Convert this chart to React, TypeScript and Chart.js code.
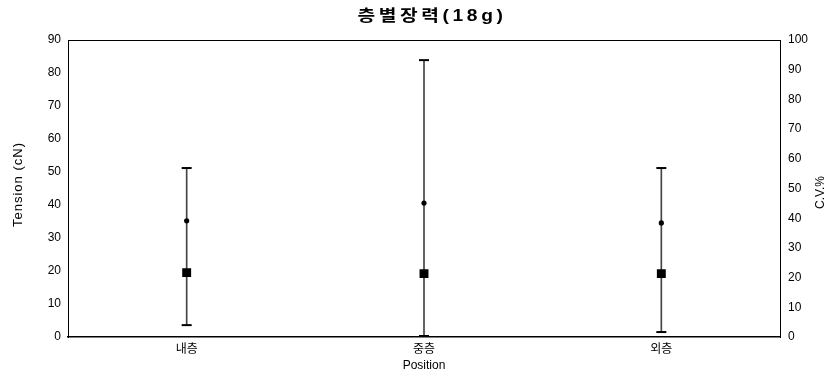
import { useEffect, useRef } from 'react';
import { Chart, registerables } from 'chart.js';

Chart.register(...registerables);

// Layers of the package
const positions = ['내층', '중층', '외층'];

// Tension (cN): mean, with minimum / maximum as whiskers
const tensionMean = [19.5, 19.2, 19.2];
const tensionMin = [3.6, 0.3, 1.5];
const tensionMax = [51.2, 83.9, 51.2];

// Coefficient of variation (%), right axis
const cvPercent = [39.1, 45.1, 38.4];

// Axis ranges
const tensionRange = { min: 0, max: 90, step: 10 };
const cvRange = { min: 0, max: 100, step: 10 };

const titleText = '층별장력(18g)';
const leftTitle = 'Tension (cN)';
const rightTitle = 'C.V.%';
const FONT = "'Liberation Sans', Arial, 'Noto Sans CJK KR', sans-serif";

const frameAndLabels = {
  id: 'frameAndLabels',
  afterDraw(chart: Chart) {
    const { ctx, chartArea } = chart;
    const { left, right, top, bottom } = chartArea;
    const midY = (top + bottom) / 2;
    ctx.save();
    // frame line along the top of the plot
    ctx.strokeStyle = '#000';
    ctx.lineWidth = 1;
    ctx.beginPath();
    ctx.moveTo(left, top + 0.5);
    ctx.lineTo(right, top + 0.5);
    ctx.stroke();

    ctx.fillStyle = '#000';
    ctx.textAlign = 'center';
    ctx.textBaseline = 'middle';

    // chart title: bold, widened and letter-spaced
    ctx.save();
    ctx.font = `bold 16px ${FONT}`;
    (ctx as any).letterSpacing = '3px';
    ctx.translate((left + right) / 2 + 8, 17);
    ctx.scale(1.2, 1);
    ctx.fillText(titleText, 0, 0);
    ctx.restore();

    // left axis title, reading bottom to top
    ctx.save();
    ctx.font = `13px ${FONT}`;
    (ctx as any).letterSpacing = '1px';
    ctx.translate(18, midY - 4);
    ctx.rotate(-Math.PI / 2);
    ctx.fillText(leftTitle, 0, 0);
    ctx.restore();

    // right axis title, reading bottom to top
    ctx.save();
    ctx.font = `12px ${FONT}`;
    ctx.translate(right + 41, midY + 4);
    ctx.rotate(-Math.PI / 2);
    ctx.fillText(rightTitle, 0, 0);
    ctx.restore();

    ctx.restore();
  },
};

export default function App() {
  const canvasRef = useRef<HTMLCanvasElement | null>(null);

  useEffect(() => {
    document.body.style.margin = '0';
    const canvas = canvasRef.current;
    if (!canvas) return;

    const chart = new Chart(canvas, {
      type: 'bar',
      data: {
        labels: positions,
        datasets: [
          {
            type: 'line',
            label: 'Mean',
            data: tensionMean,
            yAxisID: 'y',
            showLine: false,
            pointStyle: 'rect',
            pointRadius: 6.3,
            pointBackgroundColor: '#000',
            pointBorderColor: '#000',
            pointBorderWidth: 0,
            order: 0,
          },
          {
            type: 'line',
            label: 'C.V.%',
            data: cvPercent,
            yAxisID: 'y1',
            showLine: false,
            pointStyle: 'circle',
            pointRadius: 2.6,
            pointBackgroundColor: '#000',
            pointBorderColor: '#000',
            pointBorderWidth: 0,
            order: 0,
          },
          {
            type: 'line',
            label: 'Max',
            data: tensionMax,
            yAxisID: 'y',
            showLine: false,
            pointStyle: 'line',
            pointRadius: 5,
            pointBorderColor: '#000',
            pointBorderWidth: 2,
            order: 1,
          },
          {
            type: 'line',
            label: 'Min',
            data: tensionMin,
            yAxisID: 'y',
            showLine: false,
            pointStyle: 'line',
            pointRadius: 5,
            pointBorderColor: '#000',
            pointBorderWidth: 2,
            order: 1,
          },
          {
            type: 'bar',
            label: 'Range',
            data: positions.map((_, i) => [tensionMin[i], tensionMax[i]]),
            yAxisID: 'y',
            backgroundColor: '#444',
            borderWidth: 0,
            barThickness: 1,
            order: 5,
          },
        ],
      },
      options: {
        responsive: false,
        animation: false,
        layout: { padding: { top: 40, left: 0, right: 0, bottom: 0 } },
        plugins: {
          legend: { display: false },
          tooltip: { enabled: false },
          title: { display: false },
        },
        scales: {
          x: {
            type: 'category',
            offset: true,
            grid: { display: false, drawTicks: false },
            border: { display: true, color: '#000', width: 1.5 },
            ticks: { color: '#000', font: { family: FONT, size: 12 }, padding: 5 },
            title: {
              display: true,
              text: 'Position',
              color: '#000',
              font: { family: FONT, size: 12 },
              padding: { top: 0, bottom: 6 },
            },
            afterFit: (s: any) => {
              s.height = 42;
            },
          },
          y: {
            type: 'linear',
            position: 'left',
            min: tensionRange.min,
            max: tensionRange.max,
            grid: { display: false, drawTicks: false },
            border: { display: true, color: '#000', width: 1 },
            ticks: {
              stepSize: tensionRange.step,
              color: '#000',
              font: { family: FONT, size: 12 },
              padding: 7,
            },
            afterFit: (s: any) => {
              s.width = 68;
            },
          },
          y1: {
            type: 'linear',
            position: 'right',
            min: cvRange.min,
            max: cvRange.max,
            grid: { display: false, drawTicks: false },
            border: { display: true, color: '#000', width: 1 },
            ticks: {
              stepSize: cvRange.step,
              color: '#000',
              font: { family: FONT, size: 12 },
              padding: 8,
            },
            afterFit: (s: any) => {
              s.width = 60;
            },
          },
        },
      },
      plugins: [frameAndLabels],
    });

    return () => chart.destroy();
  }, []);

  return (
    <div style={{ width: 840, height: 379 }}>
      <canvas ref={canvasRef} width={840} height={379} />
    </div>
  );
}
